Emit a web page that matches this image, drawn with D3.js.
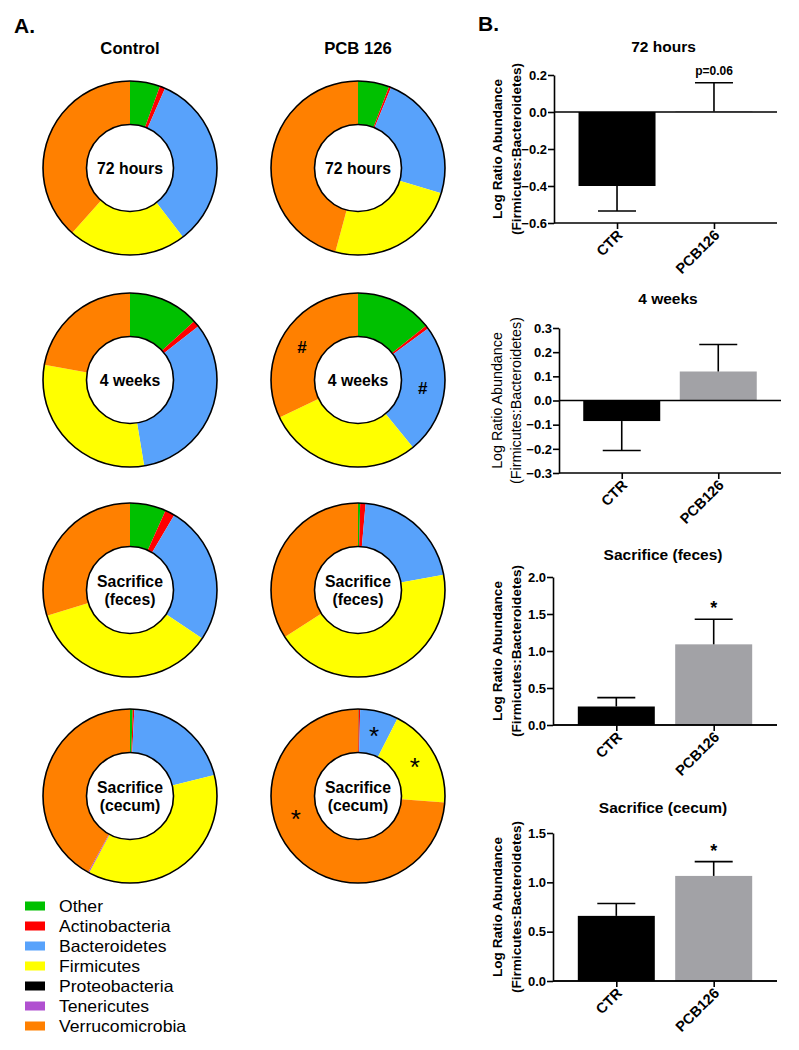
<!DOCTYPE html>
<html><head><meta charset="utf-8">
<script src="https://cdn.jsdelivr.net/npm/d3@7"></script>
<style>
body{margin:0;background:#fff;}
svg text{font-family:"Liberation Sans",Arial,sans-serif;}
</style></head>
<body><svg id="c" width="799" height="1050"></svg>
<script>
// ---------- DATA ----------
const phyla = ["Other","Actinobacteria","Bacteroidetes","Firmicutes","Proteobacteria","Tenericutes","Verrucomicrobia"];
const phylaColors = ["#00c000","#ff0000","#58a2fb","#ffff00","#000000","#b050d0","#ff8000"];
const groups = ["Control","PCB 126"];
const timepoints = [["72 hours"],["4 weeks"],["Sacrifice","(feces)"],["Sacrifice","(cecum)"]];
// percent abundance per phylum (order as phyla)
const control72h  = [5.6, 1.0, 33.0, 22.0, 0, 0, 38.4];
const pcb72h      = [5.8, 0.4, 23.5, 24.5, 0, 0, 45.8];
const control4w   = [13.2, 1.2, 33.0, 30.4, 0, 0, 22.2];
const pcb4w       = [14.3, 0.6, 24.2, 28.8, 0, 0, 32.1];
const controlFeces= [6.7, 1.8, 25.9, 35.8, 0, 0, 29.8];
const pcbFeces    = [0.4, 1.0, 20.8, 43.7, 0, 0, 34.1];
const controlCecum= [0.5, 0.3, 20.3, 36.7, 0, 0.2, 42.0];
const pcbCecum    = [0.1, 0.3, 7.1, 18.7, 0, 0, 73.8];
const controlDonuts = [control72h, control4w, controlFeces, controlCecum];
const pcbDonuts = [pcb72h, pcb4w, pcbFeces, pcbCecum];

const barTitles = ["72 hours","4 weeks","Sacrifice (feces)","Sacrifice (cecum)"];
const barGroups = ["CTR","PCB126"];
const meanCTR = [-0.40, -0.085, 0.25, 0.66];
const meanPCB = [0.003, 0.12, 1.09, 1.065];
const semCTR  = [0.135, 0.122, 0.12, 0.125];
const semPCB  = [0.155, 0.112, 0.34, 0.145];
const barSig  = ["p=0.06", "", "*", "*"];
const yTicks1 = [0.2, 0.0, -0.2, -0.4, -0.6];
const yTicks2 = [0.3, 0.2, 0.1, 0.0, -0.1, -0.2, -0.3];
const yTicks3 = [2.0, 1.5, 1.0, 0.5, 0.0];
const yTicks4 = [1.5, 1.0, 0.5, 0.0];
const yTickSets = [yTicks1, yTicks2, yTicks3, yTicks4];
const yLabel = ["Log Ratio Abundance","(Firmicutes:Bacteroidetes)"];

// ---------- DRAW ----------
const svg = d3.select("#c");
svg.append("text").attr("x",14).attr("y",33).attr("font-size",21).attr("font-weight","bold").text("A.");
svg.append("text").attr("x",478).attr("y",31).attr("font-size",21).attr("font-weight","bold").text("B.");

const colX = [130, 358];
const rowY = [168, 380, 590, 796];
const rOut = 87, rIn = 43.5;
groups.forEach((g,i)=>{
  svg.append("text").attr("x",colX[i]).attr("y",54).attr("text-anchor","middle")
    .attr("font-size",16.7).attr("font-weight","bold").text(g);
});
const pie = d3.pie().sort(null).value(d=>d);
const arc = d3.arc().innerRadius(rIn).outerRadius(rOut);
[controlDonuts, pcbDonuts].forEach((set,ci)=>{
  set.forEach((vals,ri)=>{
    const gg = svg.append("g").attr("transform",`translate(${colX[ci]},${rowY[ri]})`);
    gg.selectAll("path").data(pie(vals)).join("path")
      .attr("d",arc).attr("fill",(d,k)=>phylaColors[k]);
    gg.append("circle").attr("r",rOut).attr("fill","none").attr("stroke","#000").attr("stroke-width",1.6);
    gg.append("circle").attr("r",rIn).attr("fill","#fff").attr("stroke","#000").attr("stroke-width",1.6);
    const lines = timepoints[ri];
    lines.forEach((t,li)=>{
      gg.append("text").attr("text-anchor","middle")
        .attr("y", (li - (lines.length-1)/2)*18 + 5.5)
        .attr("font-size",15.8).attr("font-weight","bold").text(t);
    });
  });
});
// significance markers on donuts
const marks = [
  {c:1,r:1,t:"#",a:6,ang:5.25},
  {c:1,r:1,t:"#",a:2,ang:null},
  {c:1,r:3,t:"*",a:2,ang:null},
  {c:1,r:3,t:"*",a:3,ang:null},
  {c:1,r:3,t:"*",a:6,ang:4.4}
];
marks.forEach(m=>{
  const s = pie(pcbDonuts[m.r])[m.a];
  const a2 = m.ang!==null ? m.ang : (s.startAngle+s.endAngle)/2;
  const rr = (rIn+rOut)/2;
  const x = colX[m.c] + Math.sin(a2)*rr;
  const y = rowY[m.r] - Math.cos(a2)*rr;
  svg.append("text").attr("x",x).attr("y",y + (m.t==="*"?12:6)).attr("text-anchor","middle")
    .attr("font-size", m.t==="*"?26:17).attr("font-weight", m.t==="*"?"normal":"bold").text(m.t);
});

// legend
phyla.forEach((p,i)=>{
  const y = 906 + i*20;
  svg.append("rect").attr("x",25).attr("y",y-4.5).attr("width",20).attr("height",9).attr("fill",phylaColors[i]);
  svg.append("text").attr("transform",`translate(59,${y+5.8}) scale(1.08,1)`).attr("font-size",16.3).text(p);
});

// bar charts
const layout = [
  {ax:554, right:777, top:75,  bot:223, title:52},
  {ax:559, right:781, top:328, bot:473, title:304},
  {ax:553, right:777, top:577, bot:725, title:560},
  {ax:553, right:777, top:833, bot:981, title:813}
];
const barW = 77, capW = 38;
barTitles.forEach((title,i)=>{
  const L = layout[i];
  const ticks = yTickSets[i];
  const y = d3.scaleLinear().domain(d3.extent(ticks)).range([L.bot, L.top]);
  const x = d3.scalePoint().domain(barGroups).range([L.ax, L.right]).padding(0.65);
  const g = svg.append("g");
  const cx = (L.ax+L.right)/2 - 2;
  g.append("text").attr("x",cx).attr("y",L.title).attr("text-anchor","middle")
    .attr("font-size",15.5).attr("font-weight","bold").text(title);
  const means = [meanCTR[i], meanPCB[i]];
  const sems = [semCTR[i], semPCB[i]];
  const cols = ["#000000","#a2a2a6"];
  barGroups.forEach((b,k)=>{
    const v = means[k];
    const bx = x(b) - barW/2;
    g.append("rect").attr("x",bx).attr("width",barW)
      .attr("y", y(Math.max(0,v))).attr("height", Math.abs(y(v)-y(0)))
      .attr("fill",cols[k]);
    const e = v>=0 ? v+sems[k] : v-sems[k];
    g.append("line").attr("x1",x(b)).attr("x2",x(b)).attr("y1",y(v)).attr("y2",y(e))
      .attr("stroke","#000").attr("stroke-width",1.6);
    g.append("line").attr("x1",x(b)-capW/2).attr("x2",x(b)+capW/2).attr("y1",y(e)).attr("y2",y(e))
      .attr("stroke","#000").attr("stroke-width",1.6);
    if(k===1 && barSig[i]){
      const isStar = barSig[i]==="*";
      g.append("text").attr("x",x(b)).attr("y", y(e) - (isStar?5:8))
        .attr("text-anchor","middle").attr("font-size", isStar?18:12)
        .attr("font-weight","bold").text(barSig[i]);
    }
  });
  // zero line
  g.append("line").attr("x1",L.ax).attr("x2",L.right).attr("y1",y(0)).attr("y2",y(0))
    .attr("stroke","#000").attr("stroke-width",1.6);
  // y axis
  const ya = g.append("g").attr("transform",`translate(${L.ax},0)`)
    .call(d3.axisLeft(y).tickValues(ticks).tickFormat(d3.format(".1f")).tickSize(6).tickSizeOuter(0));
  ya.select(".domain").attr("stroke-width",1.6);
  ya.selectAll(".tick line").attr("stroke-width",1.6);
  ya.selectAll("text").attr("font-size",13).attr("font-weight","bold")
    .attr("font-family","Liberation Sans, Arial, sans-serif").attr("x",-7);
  // bottom x axis
  const xa = g.append("g").attr("transform",`translate(0,${L.bot})`)
    .call(d3.axisBottom(x).tickSize(6).tickSizeOuter(0));
  xa.select(".domain").attr("d",`M${L.ax},0H${L.right}`).attr("stroke-width",1.6);
  xa.selectAll(".tick line").attr("stroke-width",1.6);
  xa.selectAll("text").attr("font-size",14.5).attr("font-weight","bold")
    .attr("font-family","Liberation Sans, Arial, sans-serif")
    .attr("text-anchor","end").attr("dy",0).attr("y",0)
    .attr("transform","translate(6,13) rotate(-45)");
  // y label
  const my = (L.top+L.bot)/2;
  yLabel.forEach((t,li)=>{
    g.append("text").attr("transform",`translate(${502+li*19},${my}) rotate(-90)`)
      .attr("text-anchor","middle")
      .attr("font-size", i===1?14.3:13.6)
      .attr("font-weight", i===1?"normal":"bold").text(t);
  });
});
</script>
</body></html>
